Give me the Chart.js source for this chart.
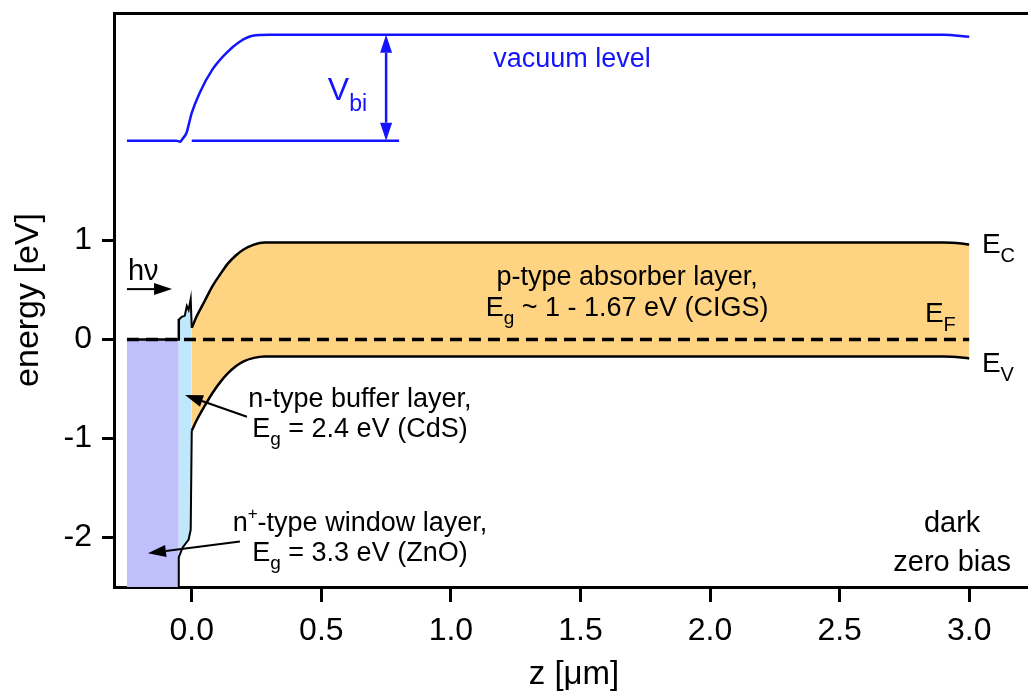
<!DOCTYPE html>
<html>
<head>
<meta charset="utf-8">
<title>CIGS band diagram</title>
<script src="https://cdn.jsdelivr.net/npm/chart.js@4"></script>
<style>
  html, body { margin: 0; padding: 0; background: #fff; overflow: hidden; }
  #wrap { width: 1034px; height: 698px; }
</style>
</head>
<body>
<div id="wrap"><canvas id="band-chart"></canvas></div>
<script>
// Band diagram of a ZnO / CdS / CIGS solar cell, dark, zero bias

const FONT = '"Liberation Sans", Arial, Helvetica, sans-serif';
const BLUE = '#1414ff';

// axis ticks
const xTicks = [0.0, 0.5, 1.0, 1.5, 2.0, 2.5, 3.0];
const yTicks = [-2, -1, 0, 1];

// Fermi level
const zFermi = [-0.25, 3.0];
const eFermi = [0, 0];

// n+ ZnO window: conduction band edge (valence band is off scale)
const zWindow = [-0.25, -0.05, -0.05];
const ecWindow = [0.0, 0.0, 0.21];

// n CdS buffer
const zBufferEc = [-0.05, -0.046, -0.039, -0.027, -0.019, -0.012, -0.004, 0.0];
const ecBuffer = [0.21, 0.21, 0.23, 0.24, 0.34, 0.30, 0.41, 0.12];
const zBufferEv = [-0.05, -0.05, -0.035, -0.012, -0.004, 0.0];
const evBuffer = [-2.5, -2.2, -2.1, -2.02, -1.92, -0.92];

// p CIGS absorber
const zAbsorber = [0, 0.02, 0.05, 0.08, 0.11, 0.14, 0.17, 0.2, 0.24, 0.28, 0.4, 1.0, 2.0, 2.9, 2.97, 3.0];
const ecAbsorber = [0.12, 0.24, 0.39, 0.54, 0.66, 0.77, 0.85, 0.91, 0.96, 0.98, 0.98, 0.98, 0.98, 0.98, 0.97, 0.96];
const evAbsorber = [-0.92, -0.81, -0.67, -0.54, -0.43, -0.34, -0.27, -0.22, -0.185, -0.17, -0.17, -0.17, -0.17, -0.17, -0.18, -0.19];

// vacuum level and the V_bi reference line
const zVacuum = [-0.25, -0.06, -0.045, -0.035, -0.02, -0.01, 0.0, 0.03, 0.08, 0.135, 0.185, 0.235, 0.3, 0.5, 1.5, 2.9, 3.0];
const eVacuum = [2.01, 2.01, 2.0, 2.03, 2.09, 2.19, 2.29, 2.49, 2.73, 2.9, 3.01, 3.07, 3.08, 3.08, 3.08, 3.08, 3.06];
const zVbiRef = [0.0, 0.8];
const eVbiRef = [2.01, 2.01];

// arrows, in data units: [z, E] tail -> tip
const arrows = [
  { from: [0.75, 2.01], to: [0.75, 3.08], color: BLUE, width: 2.5, both: true },
  { from: [-0.25, 0.51], to: [-0.076, 0.51], color: '#000', width: 2, both: false },
  { from: [0.213, -0.78], to: [-0.026, -0.56], color: '#000', width: 2, both: false },
  { from: [0.186, -2.04], to: [-0.169, -2.16], color: '#000', width: 2, both: false },
];

// text runs: [text, size, dy]
const labels = [
  { at: [1.467, 2.75], align: 'center', color: BLUE, runs: [['vacuum level', 27]] },
  { at: [0.525, 2.42], align: 'left', color: BLUE, runs: [['V', 32], ['bi', 23, 11]] },
  { at: [-0.246, 0.60], align: 'left', color: '#000', runs: [['hν', 29]] },
  { at: [3.049, 0.875], align: 'left', color: '#000', runs: [['E', 28], ['C', 20, 9]] },
  { at: [2.829, 0.178], align: 'left', color: '#000', runs: [['E', 28], ['F', 20, 9]] },
  { at: [3.049, -0.327], align: 'left', color: '#000', runs: [['E', 28], ['V', 20, 9]] },
  { at: [1.68, 0.55], align: 'center', color: '#000', runs: [['p-type absorber layer,', 27]] },
  { at: [1.68, 0.238], align: 'center', color: '#000', runs: [['E', 27], ['g', 19, 8], [' ~ 1 - 1.67 eV (CIGS)', 27]] },
  { at: [0.649, -0.681], align: 'center', color: '#000', runs: [['n-type buffer layer,', 27]] },
  { at: [0.649, -0.984], align: 'center', color: '#000', runs: [['E', 27], ['g', 19, 8], [' = 2.4 eV (CdS)', 27]] },
  { at: [0.649, -1.934], align: 'center', color: '#000', runs: [['n', 27], ['+', 17, -12], ['-type window layer,', 27]] },
  { at: [0.649, -2.237], align: 'center', color: '#000', runs: [['E', 27], ['g', 19, 8], [' = 3.3 eV (ZnO)', 27]] },
  { at: [2.934, -1.944], align: 'center', color: '#000', runs: [['dark', 29]] },
  { at: [2.934, -2.338], align: 'center', color: '#000', runs: [['zero bias', 29]] },
];

const pts = (xs, ys) => xs.map((x, i) => ({ x, y: ys[i] }));

function drawArrow(ctx, x1, y1, x2, y2, color, width, both) {
  const len = 18, half = 6;
  const dx = x2 - x1, dy = y2 - y1;
  const d = Math.hypot(dx, dy);
  const ux = dx / d, uy = dy / d;
  const head = (tx, ty, sx, sy) => {
    ctx.beginPath();
    ctx.moveTo(tx, ty);
    ctx.lineTo(tx - sx * len - sy * half, ty - sy * len + sx * half);
    ctx.lineTo(tx - sx * len + sy * half, ty - sy * len - sx * half);
    ctx.closePath();
    ctx.fill();
  };
  ctx.strokeStyle = color;
  ctx.fillStyle = color;
  ctx.lineWidth = width;
  ctx.beginPath();
  ctx.moveTo(both ? x1 + ux * len : x1, both ? y1 + uy * len : y1);
  ctx.lineTo(x2 - ux * len, y2 - uy * len);
  ctx.stroke();
  head(x2, y2, ux, uy);
  if (both) head(x1, y1, -ux, -uy);
}

function drawRuns(ctx, runs, x, y, align, color) {
  ctx.fillStyle = color;
  ctx.textBaseline = 'alphabetic';
  ctx.textAlign = 'left';
  const widths = runs.map(([t, size]) => { ctx.font = `${size}px ${FONT}`; return ctx.measureText(t).width; });
  const total = widths.reduce((a, b) => a + b, 0);
  let cx = align === 'center' ? x - total / 2 : x;
  runs.forEach(([t, size, dy], i) => {
    ctx.font = `${size}px ${FONT}`;
    ctx.fillText(t, cx, y + (dy || 0));
    cx += widths[i];
  });
}

const annotationPlugin = {
  id: 'bandAnnotations',
  afterDatasetsDraw(chart) {
    const { ctx, scales: { x, y } } = chart;
    ctx.save();
    arrows.forEach(a => drawArrow(ctx,
      x.getPixelForValue(a.from[0]), y.getPixelForValue(a.from[1]),
      x.getPixelForValue(a.to[0]), y.getPixelForValue(a.to[1]),
      a.color, a.width, a.both));
    labels.forEach(l => drawRuns(ctx, l.runs, x.getPixelForValue(l.at[0]), y.getPixelForValue(l.at[1]), l.align, l.color));
    ctx.restore();
  },
};

Chart.defaults.font.family = FONT;
Chart.defaults.color = '#000';

const line = (data, extra) => Object.assign({
  data, showLine: true, pointRadius: 0, borderColor: '#000', borderWidth: 2.5, fill: false, tension: 0,
}, extra);

// no label overhang padding: plot area is pinned to the axis boxes
const noPad = s => { s.paddingTop = 0; s.paddingBottom = 0; s.paddingLeft = 0; s.paddingRight = 0; };

new Chart(document.getElementById('band-chart'), {
  type: 'scatter',
  data: {
    datasets: [
      line(pts(zFermi, eFermi), { borderDash: [12, 7], borderWidth: 3.5, order: 0 }),
      line(pts(zWindow, ecWindow), { fill: { value: -2.5 }, backgroundColor: '#bfbffc', order: 5 }),
      line(pts(zBufferEc, ecBuffer), { fill: { target: 3 }, backgroundColor: '#c0e8fd', borderWidth: 2, order: 5 }),
      line(pts(zBufferEv, evBuffer), { borderWidth: 2, order: 5 }),
      line(pts(zAbsorber, ecAbsorber), { fill: { target: 5 }, backgroundColor: '#fed382', cubicInterpolationMode: 'monotone', order: 5 }),
      line(pts(zAbsorber, evAbsorber), { cubicInterpolationMode: 'monotone', order: 5 }),
      line(pts(zVacuum, eVacuum), { borderColor: BLUE, cubicInterpolationMode: 'monotone', order: 5 }),
      line(pts(zVbiRef, eVbiRef), { borderColor: BLUE, order: 5 }),
    ],
  },
  options: {
    responsive: true,
    maintainAspectRatio: false,
    animation: false,
    layout: { padding: 0 },
    plugins: {
      legend: { display: false },
      tooltip: { enabled: false },
      filler: { drawTime: 'beforeDatasetsDraw' },
    },
    scales: {
      x: {
        type: 'linear', position: 'bottom', min: -0.3, max: 3.25,
        afterFit: s => { noPad(s); s.height = 111; },
        afterBuildTicks: s => { s.ticks = xTicks.map(v => ({ value: v })); },
        border: { display: true, width: 3, color: '#000' },
        grid: { display: true, drawOnChartArea: false, drawTicks: true, tickLength: 15, tickWidth: 3, tickColor: '#000', color: '#000' },
        ticks: { font: { size: 32 }, padding: 10, maxRotation: 0, callback: v => v.toFixed(1) },
        title: { display: true, text: 'z [μm]', font: { size: 33 }, padding: { top: 0, bottom: 3 } },
      },
      xTop: {
        type: 'linear', position: 'top', min: -0.3, max: 3.25,
        afterFit: s => { noPad(s); s.height = 13; },
        border: { display: true, width: 3, color: '#000' },
        grid: { display: false },
        ticks: { display: false },
      },
      y: {
        type: 'linear', position: 'left', min: -2.5, max: 3.3,
        afterFit: s => { noPad(s); s.width = 114; },
        afterBuildTicks: s => { s.ticks = yTicks.map(v => ({ value: v })); },
        border: { display: true, width: 3, color: '#000' },
        grid: { display: true, drawOnChartArea: false, drawTicks: true, tickLength: 12, tickWidth: 3, tickColor: '#000', color: '#000' },
        ticks: { font: { size: 32 }, padding: 10, callback: v => String(v) },
        title: { display: true, text: 'energy [eV]', font: { size: 34 }, padding: { top: 8, bottom: 0 } },
      },
    },
  },
  plugins: [annotationPlugin],
});
</script>
</body>
</html>
